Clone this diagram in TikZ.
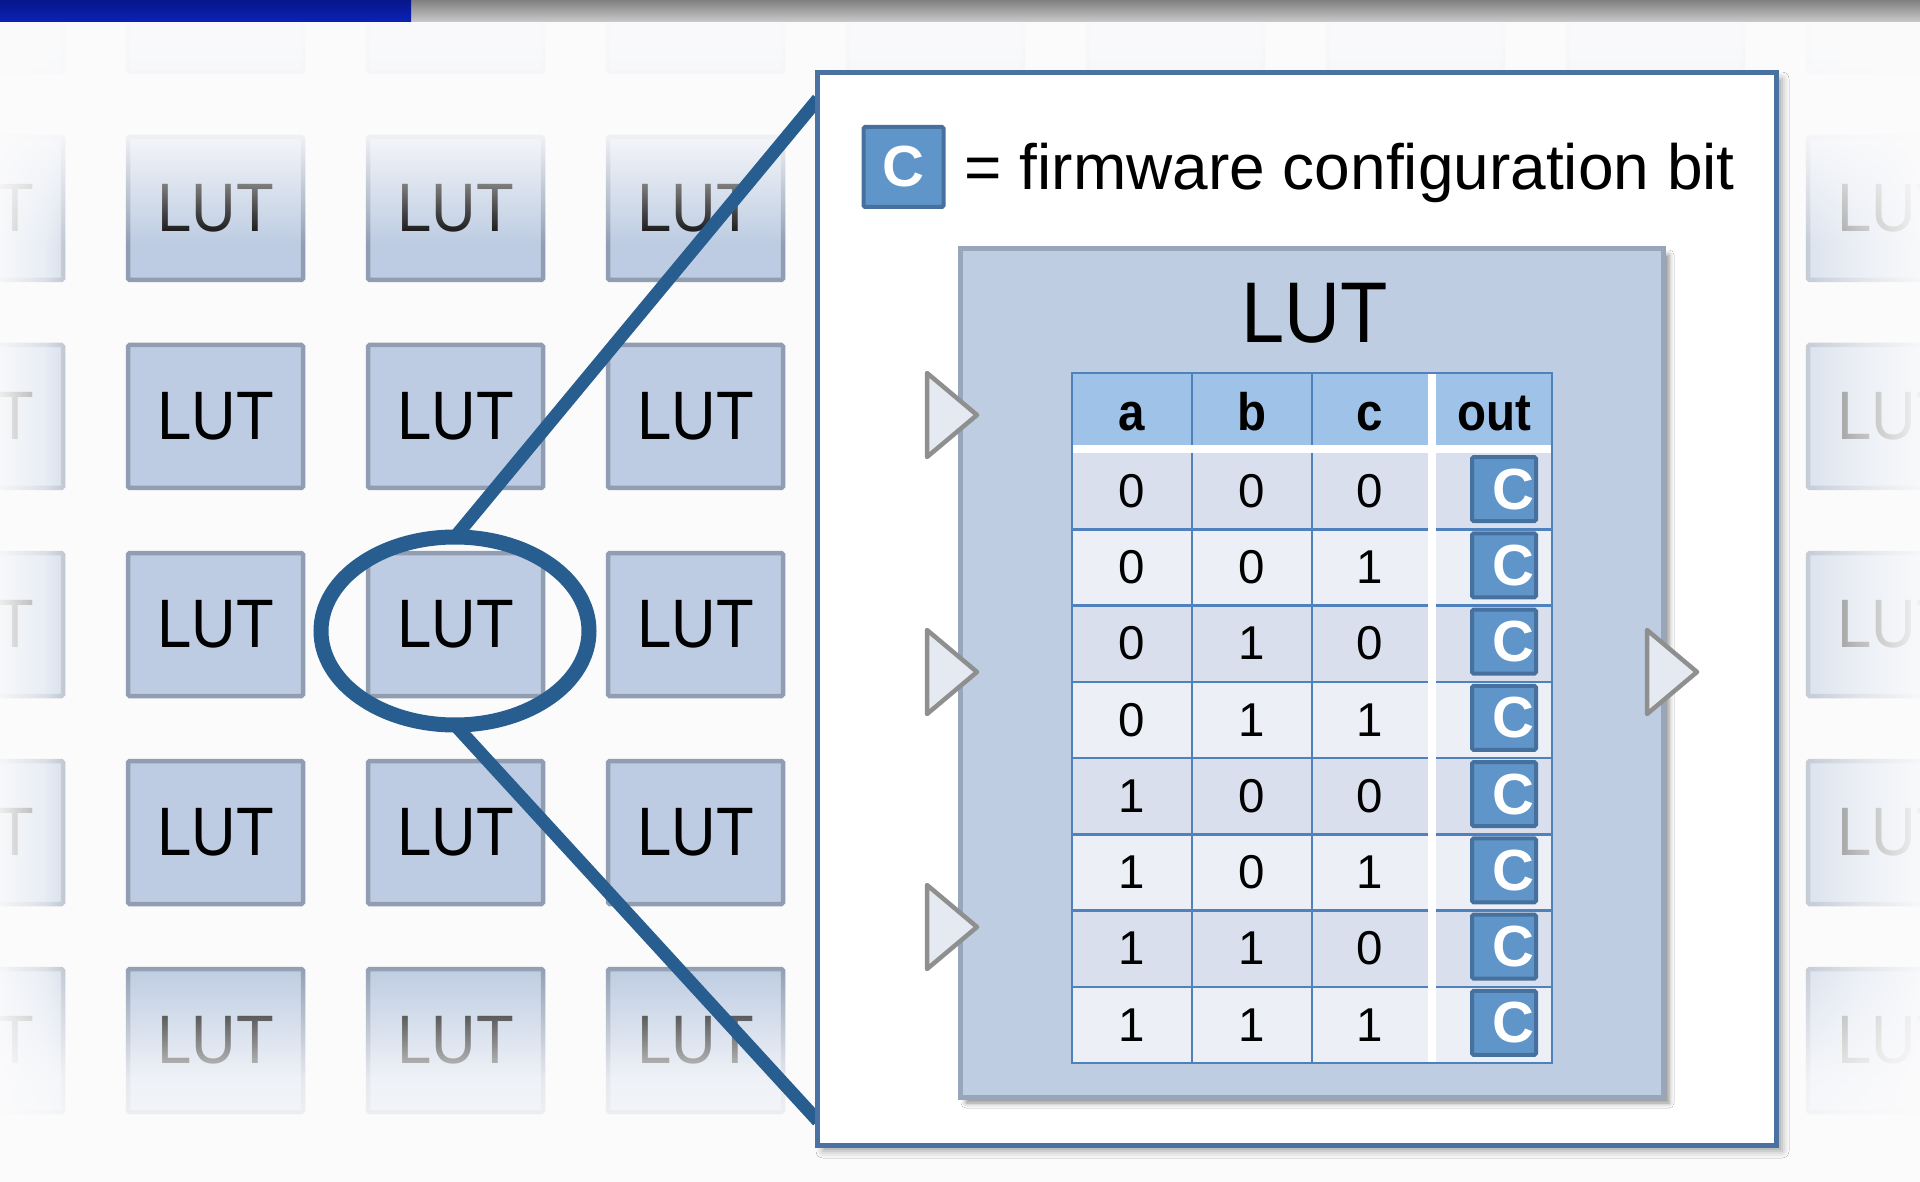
\documentclass[tikz,border=0pt]{standalone}
\usepackage{fontspec}
\setmainfont{Liberation Sans}
\newfontfamily\lutfont[FakeStretch=0.9]{Liberation Sans}
\usetikzlibrary{shapes.geometric,shadows.blur,fadings}

\newlength\px
\setlength\px{0.01cm}

\definecolor{bgwhite}{HTML}{FBFBFC}
\definecolor{barblueA}{HTML}{06168A}
\definecolor{barblueB}{HTML}{0C22B6}
\definecolor{bargrayA}{HTML}{808080}
\definecolor{bargrayB}{HTML}{CACACA}
\definecolor{lutfill}{HTML}{BDCCE2}
\definecolor{lutborder}{HTML}{919EB2}
\definecolor{zoomblue}{HTML}{285D8F}
\definecolor{panelborder}{HTML}{4A72A0}
\definecolor{blockfill}{HTML}{BFCDE3}
\definecolor{blockborder}{HTML}{98A6BB}
\definecolor{hdrfill}{HTML}{9FC2E9}
\definecolor{rowdark}{HTML}{D9DFEC}
\definecolor{rowlight}{HTML}{ECF0F6}
\definecolor{tblblue}{HTML}{4F81BD}
\definecolor{cfill}{HTML}{5F95C8}
\definecolor{cborder}{HTML}{46719E}
\definecolor{portgray}{HTML}{8F8F8F}
\definecolor{portfill}{HTML}{E5E9F2}

\tikzfading[name=fadetop, top color=transparent!2, bottom color=transparent!100, middle color=transparent!8]
\tikzfading[name=fadebottom, top color=transparent!100, bottom color=transparent!0, middle color=transparent!20]
\tikzfading[name=fadeleft, left color=transparent!0, right color=transparent!100, middle color=transparent!30]
\tikzfading[name=faderight, left color=transparent!60, right color=transparent!0, middle color=transparent!25]

\begin{document}
\begin{tikzpicture}[x=0.01cm, y=-0.01cm,
lutbox/.style={rectangle, draw=lutborder, line width=4.5\px, fill=lutfill, rounded corners=1.5\px, minimum width=175\px, minimum height=143\px, inner sep=0pt, font=\lutfont\fontsize{19.5}{22}\selectfont},
zoomring/.style={ellipse, draw=zoomblue, line width=15\px, minimum width=268\px, minimum height=188\px, outer sep=0pt},
zoomline/.style={draw=zoomblue, line width=13\px},
panel/.style={rectangle, draw=panelborder, line width=5\px, fill=white, minimum width=959\px, minimum height=1072\px, blur shadow={shadow xshift=6\px, shadow yshift=-6\px, shadow opacity=35, shadow blur radius=7\px}},
lutblock/.style={rectangle, draw=blockborder, line width=5\px, fill=blockfill, minimum width=703\px, minimum height=848\px, blur shadow={shadow xshift=6\px, shadow yshift=-6\px, shadow opacity=45, shadow blur radius=5\px}},
inport/.style={draw=portgray, fill=portfill, line width=4.5\px, line join=round},
tblline/.style={draw=tblblue, line width=2.5\px},
hdrcell/.style={anchor=base, inner sep=0pt, font=\lutfont\bfseries\fontsize{15}{17}\selectfont},
bitcell/.style={inner sep=0pt, font=\fontsize{13.5}{15}\selectfont},
cbit/.style={rectangle, draw=cborder, fill=cfill, line width=4\px, rounded corners=1.5\px, minimum width=64\px, minimum height=64\px, inner xsep=2\px, inner ysep=0pt, text=white, font=\bfseries\fontsize{16.5}{18}\selectfont}
]
\useasboundingbox (0,0) rectangle (1920,1182);
\fill[bgwhite] (0,0) rectangle (1920,1182);

%Nodes
\foreach \c in {0,...,8}
  \node[lutbox] (lut-0-\c) at ({-24.5+240*\c},0.5) {};
\foreach \r in {1,...,5}
  \foreach \c in {0,1,2,3,8}
    \node[lutbox] (lut-\r-\c) at ({-24.5+240*\c},{0.5+208*\r}) {LUT};

%Fading of the outer boxes
\fill[bgwhite, path fading=fadetop] (-10,20) rectangle (1930,245);
\fill[bgwhite, path fading=fadebottom] (-10,965) rectangle (1930,1190);
\fill[bgwhite, path fading=fadeleft] (-10,0) rectangle (100,1190);
\fill[bgwhite, path fading=faderight] (1786,0) rectangle (1930,1190);

%Zoom
\node[zoomring] (zoom) at (455,631) {};
\coordinate (pin-top) at (818,99);
\coordinate (pin-bottom) at (818,1121);
\draw[zoomline] (zoom.north) -- (pin-top);
\draw[zoomline] (zoom.south) -- (pin-bottom);

\node[panel] (panel) at (1296.5,609) {};

%Legend
\node[cbit, minimum width=80\px, minimum height=80\px, inner xsep=0pt] (legend-c) at (903.5,167) {C};
\node[anchor=base west, inner sep=0pt, font=\fontsize{18.2}{20}\selectfont] (legend-text) at (964,190) {= firmware configuration bit};

%LUT block
\node[lutblock] (block) at (1311.5,673) {};
\node[anchor=base, inner sep=0pt, font=\lutfont\fontsize{24.5}{27}\selectfont] (block-title) at (1315,343) {LUT};
\foreach \y in {415,672,927}
  \draw[inport] (927,\y-42) -- (977,\y) -- (927,\y+42) -- cycle;
\draw[inport] (1647,630) -- (1697,672) -- (1647,714) -- cycle;

%Table
\fill[hdrfill] (1072,373) rectangle (1552,445);
\foreach \i in {0,...,7}{
  \pgfmathsetmacro\yt{453+76.25*\i}
  \pgfmathsetmacro\yb{\yt+76.25}
  \ifodd\i \def\rowcol{rowlight}\else\def\rowcol{rowdark}\fi
  \fill[\rowcol] (1072,\yt) rectangle (1552,\yb);
}
\foreach \i in {1,...,7}
  \draw[tblline] (1072,{453+76.25*\i}) -- (1552,{453+76.25*\i});
\foreach \x in {1192,1312}
  \draw[tblline] (\x,373) -- (\x,1063);
\fill[white] (1072,445) rectangle (1552,453);
\fill[white] (1428,373) rectangle (1436,1063);
\draw[tblline] (1072,373) rectangle (1552,1063);

\foreach \t/\x in {a/1132,b/1252,c/1370,out/1494}
  \node[hdrcell] (head-\t) at (\x,431) {\t};

\foreach \va/\vb/\vc [count=\i from 0] in {0/0/0,0/0/1,0/1/0,0/1/1,1/0/0,1/0/1,1/1/0,1/1/1}{
  \pgfmathsetmacro\yc{491.1+76.25*\i}
  \node[bitcell] (a-\i) at (1132,\yc) {\va};
  \node[bitcell] (b-\i) at (1252,\yc) {\vb};
  \node[bitcell] (c-\i) at (1370,\yc) {\vc};
  \node[cbit] (out-\i) at (1504,{\yc-2}) {\makebox[60\px][r]{C}};
}

%Top bar
\shade[top color=bargrayA, bottom color=bargrayB] (0,0) rectangle (1920,22);
\shade[top color=barblueA, bottom color=barblueB] (0,0) rectangle (411,22);

\end{tikzpicture}
\end{document}
